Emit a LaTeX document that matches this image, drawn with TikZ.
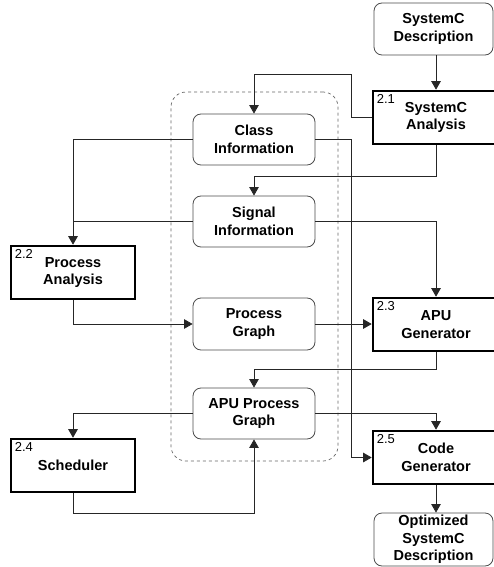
\documentclass[tikz,border=0pt]{standalone}
\usepackage{fontspec}
\setmainfont{Liberation Sans}
\usetikzlibrary{arrows.meta,positioning,calc}
\begin{document}
\begin{tikzpicture}[x=1pt,y=-1pt,
  txt/.style={font=\fontsize{14.5}{17.5}\selectfont\bfseries, align=center, inner sep=0pt},
  data/.style={txt, draw=black!70, line width=0.8pt, rounded corners=8pt, fill=white},
  proc/.style={txt, draw=black, line width=2.6pt, fill=white},
  num/.style={font=\fontsize{13}{14}\selectfont, inner sep=0pt, anchor=north west},
  conn/.style={line width=0.8pt, draw=black!85},
  arr/.style={conn, -{Triangle[length=8.5pt,width=9.5pt]}},
  container/.style={draw=black!60, dashed, line width=0.7pt, rounded corners=15pt}
]
\useasboundingbox (0,0) rectangle (494,567);

\node[container, minimum width=167pt, minimum height=369pt] (cont) at (254.5,276.5) {};

\node[data, minimum width=119pt, minimum height=52pt] (desc) at (433.5,29) {SystemC\\Description};
\node[proc, minimum width=126pt, minimum height=53pt] (sa) at (436,117.5) {SystemC\\Analysis};
\node[num] (n1) at ($(sa.north west)+(5,5)$) {2.1};

\node[data, minimum width=122pt, minimum height=51pt] (class) at (254,139.5) {Class\\Information};
\node[data, minimum width=122pt, minimum height=51pt] (signal) at (254,221.5) {Signal\\Information};
\node[data, minimum width=122pt, minimum height=52pt] (pg) at (254,324) {Process\\Graph};
\node[data, minimum width=122pt, minimum height=51pt] (apupg) at (254,413.5) {APU Process\\Graph};

\node[proc, minimum width=124pt, minimum height=53pt] (pa) at (73,272.5) {Process\\Analysis};
\node[num] (n2) at ($(pa.north west)+(5,5)$) {2.2};
\node[proc, minimum width=124pt, minimum height=53pt] (sched) at (73,465.5) {Scheduler};
\node[num] (n4) at ($(sched.north west)+(5,5)$) {2.4};

\node[proc, minimum width=126pt, minimum height=53pt] (apugen) at (436,324.5) {APU\\Generator};
\node[num] (n3) at ($(apugen.north west)+(5,5)$) {2.3};
\node[proc, minimum width=126pt, minimum height=53pt] (codegen) at (436,457.5) {Code\\Generator};
\node[num] (n5) at ($(codegen.north west)+(5,5)$) {2.5};

\node[data, minimum width=119pt, minimum height=53pt] (opt) at (433.5,539.5) {Optimized\\SystemC\\Description};

% connectors
\draw[arr] (sa.north |- desc.south) -- (sa.north);
\draw[arr] (sa.west) -- (351,117.5) -- (351,74) -- (254,74) -- (class.north);
\draw[arr] (class.west) -- (73,139.5) -- (pa.north);
\draw[arr] (class.east) -- (351,139.5) -- (351,457.5) -- (codegen.west);
\draw[arr] (sa.south) -- (436,176) -- (254,176) -- (signal.north);
\draw[conn] (signal.west) -- (73,221.5);
\draw[arr] (signal.east) -- (436,221.5) -- (apugen.north);
\draw[arr] (pa.south) -- (73,324) -- (pg.west);
\draw[arr] (pg.east) -- (pg.east -| apugen.west);
\draw[arr] (apugen.south) -- (436,369) -- (254,369) -- (apupg.north);
\draw[arr] (apupg.west) -- (73,413.5) -- (sched.north);
\draw[arr] (apupg.east) -- (436,413.5) -- (codegen.north);
\draw[arr] (sched.south) -- (73,513) -- (254,513) -- (apupg.south);
\draw[arr] (codegen.south) -- (codegen.south |- opt.north);
\end{tikzpicture}
\end{document}
